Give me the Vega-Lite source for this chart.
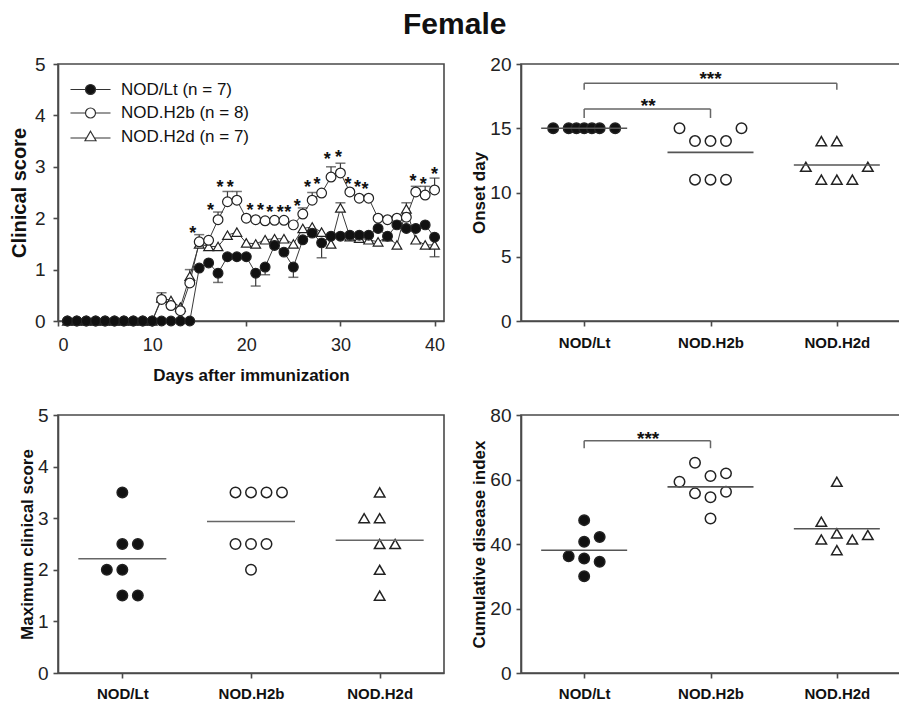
{
  "$schema": "https://vega.github.io/schema/vega-lite/v6.json",
  "padding": {"left": 8, "top": 10, "right": 0, "bottom": 0},
  "background": "white",
  "title": {"text": "Female", "fontSize": 30, "fontWeight": "bold", "font": "Liberation Sans", "color": "#111", "anchor": "middle", "offset": 14},
  "bounds": "flush",
  "columns": 2,
  "spacing": {"row": 94, "column": 77},
  "datasets": {
    "ts": [
      {"g":"NOD.H2d","day":1,"score":0},{"g":"NOD.H2d","day":2,"score":0},{"g":"NOD.H2d","day":3,"score":0},{"g":"NOD.H2d","day":4,"score":0},{"g":"NOD.H2d","day":5,"score":0},{"g":"NOD.H2d","day":6,"score":0},{"g":"NOD.H2d","day":7,"score":0},{"g":"NOD.H2d","day":8,"score":0},{"g":"NOD.H2d","day":9,"score":0},{"g":"NOD.H2d","day":10,"score":0},
      {"g":"NOD.H2d","day":11,"score":0.45},{"g":"NOD.H2d","day":12,"score":0.4},{"g":"NOD.H2d","day":13,"score":0.27},{"g":"NOD.H2d","day":14,"score":0.87},{"g":"NOD.H2d","day":15,"score":1.5},{"g":"NOD.H2d","day":16,"score":1.45},{"g":"NOD.H2d","day":17,"score":1.45},{"g":"NOD.H2d","day":18,"score":1.67},{"g":"NOD.H2d","day":19,"score":1.73},{"g":"NOD.H2d","day":20,"score":1.52},
      {"g":"NOD.H2d","day":21,"score":1.5},{"g":"NOD.H2d","day":22,"score":1.58},{"g":"NOD.H2d","day":23,"score":1.6},{"g":"NOD.H2d","day":24,"score":1.6},{"g":"NOD.H2d","day":25,"score":1.5},{"g":"NOD.H2d","day":26,"score":1.8},{"g":"NOD.H2d","day":27,"score":1.83},{"g":"NOD.H2d","day":28,"score":1.73},{"g":"NOD.H2d","day":29,"score":1.5},{"g":"NOD.H2d","day":30,"score":2.2},
      {"g":"NOD.H2d","day":31,"score":1.64},{"g":"NOD.H2d","day":32,"score":1.61},{"g":"NOD.H2d","day":33,"score":1.58},{"g":"NOD.H2d","day":34,"score":1.54},{"g":"NOD.H2d","day":35,"score":1.64},{"g":"NOD.H2d","day":36,"score":1.48},{"g":"NOD.H2d","day":37,"score":2.18},{"g":"NOD.H2d","day":38,"score":1.58},{"g":"NOD.H2d","day":39,"score":1.48},{"g":"NOD.H2d","day":40,"score":1.48},
      {"g":"NOD.H2b","day":1,"score":0},{"g":"NOD.H2b","day":2,"score":0},{"g":"NOD.H2b","day":3,"score":0},{"g":"NOD.H2b","day":4,"score":0},{"g":"NOD.H2b","day":5,"score":0},{"g":"NOD.H2b","day":6,"score":0},{"g":"NOD.H2b","day":7,"score":0},{"g":"NOD.H2b","day":8,"score":0},{"g":"NOD.H2b","day":9,"score":0},{"g":"NOD.H2b","day":10,"score":0},
      {"g":"NOD.H2b","day":11,"score":0.42},{"g":"NOD.H2b","day":12,"score":0.3},{"g":"NOD.H2b","day":13,"score":0.2},{"g":"NOD.H2b","day":14,"score":0.74},{"g":"NOD.H2b","day":15,"score":1.54},{"g":"NOD.H2b","day":16,"score":1.57},{"g":"NOD.H2b","day":17,"score":1.97},{"g":"NOD.H2b","day":18,"score":2.32},{"g":"NOD.H2b","day":19,"score":2.35},{"g":"NOD.H2b","day":20,"score":2.0},
      {"g":"NOD.H2b","day":21,"score":1.97},{"g":"NOD.H2b","day":22,"score":1.95},{"g":"NOD.H2b","day":23,"score":1.96},{"g":"NOD.H2b","day":24,"score":1.96},{"g":"NOD.H2b","day":25,"score":1.87},{"g":"NOD.H2b","day":26,"score":2.08},{"g":"NOD.H2b","day":27,"score":2.35},{"g":"NOD.H2b","day":28,"score":2.49},{"g":"NOD.H2b","day":29,"score":2.8},{"g":"NOD.H2b","day":30,"score":2.88},
      {"g":"NOD.H2b","day":31,"score":2.51},{"g":"NOD.H2b","day":32,"score":2.39},{"g":"NOD.H2b","day":33,"score":2.39},{"g":"NOD.H2b","day":34,"score":2.0},{"g":"NOD.H2b","day":35,"score":1.97},{"g":"NOD.H2b","day":36,"score":2.0},{"g":"NOD.H2b","day":37,"score":2.02},{"g":"NOD.H2b","day":38,"score":2.51},{"g":"NOD.H2b","day":39,"score":2.45},{"g":"NOD.H2b","day":40,"score":2.55},
      {"g":"NOD/Lt","day":1,"score":0},{"g":"NOD/Lt","day":2,"score":0},{"g":"NOD/Lt","day":3,"score":0},{"g":"NOD/Lt","day":4,"score":0},{"g":"NOD/Lt","day":5,"score":0},{"g":"NOD/Lt","day":6,"score":0},{"g":"NOD/Lt","day":7,"score":0},{"g":"NOD/Lt","day":8,"score":0},{"g":"NOD/Lt","day":9,"score":0},{"g":"NOD/Lt","day":10,"score":0},
      {"g":"NOD/Lt","day":11,"score":0},{"g":"NOD/Lt","day":12,"score":0},{"g":"NOD/Lt","day":13,"score":0},{"g":"NOD/Lt","day":14,"score":0},{"g":"NOD/Lt","day":15,"score":1.03},{"g":"NOD/Lt","day":16,"score":1.13},{"g":"NOD/Lt","day":17,"score":0.93},{"g":"NOD/Lt","day":18,"score":1.25},{"g":"NOD/Lt","day":19,"score":1.25},{"g":"NOD/Lt","day":20,"score":1.25},
      {"g":"NOD/Lt","day":21,"score":0.93},{"g":"NOD/Lt","day":22,"score":1.05},{"g":"NOD/Lt","day":23,"score":1.47},{"g":"NOD/Lt","day":24,"score":1.34},{"g":"NOD/Lt","day":25,"score":1.05},{"g":"NOD/Lt","day":26,"score":1.58},{"g":"NOD/Lt","day":27,"score":1.71},{"g":"NOD/Lt","day":28,"score":1.52},{"g":"NOD/Lt","day":29,"score":1.65},{"g":"NOD/Lt","day":30,"score":1.65},
      {"g":"NOD/Lt","day":31,"score":1.67},{"g":"NOD/Lt","day":32,"score":1.67},{"g":"NOD/Lt","day":33,"score":1.67},{"g":"NOD/Lt","day":34,"score":1.8},{"g":"NOD/Lt","day":35,"score":1.65},{"g":"NOD/Lt","day":36,"score":1.87},{"g":"NOD/Lt","day":37,"score":1.8},{"g":"NOD/Lt","day":38,"score":1.8},{"g":"NOD/Lt","day":39,"score":1.87},{"g":"NOD/Lt","day":40,"score":1.63}
    ],
    "err": [
      {"g":"NOD/Lt","day":17,"from":0.93,"to":0.75},{"g":"NOD/Lt","day":21,"from":0.93,"to":0.68},{"g":"NOD/Lt","day":22,"from":1.05,"to":0.9},{"g":"NOD/Lt","day":25,"from":1.05,"to":0.85},{"g":"NOD/Lt","day":28,"from":1.52,"to":1.23},{"g":"NOD/Lt","day":40,"from":1.63,"to":1.25},
      {"g":"NOD.H2b","day":11,"from":0.42,"to":0.55},{"g":"NOD.H2b","day":15,"from":1.54,"to":1.68},{"g":"NOD.H2b","day":17,"from":1.97,"to":2.12},{"g":"NOD.H2b","day":18,"from":2.32,"to":2.52},{"g":"NOD.H2b","day":19,"from":2.35,"to":2.52},{"g":"NOD.H2b","day":26,"from":2.08,"to":2.2},{"g":"NOD.H2b","day":27,"from":2.35,"to":2.5},{"g":"NOD.H2b","day":29,"from":2.8,"to":3.0},{"g":"NOD.H2b","day":30,"from":2.88,"to":3.07},{"g":"NOD.H2b","day":38,"from":2.51,"to":2.62},{"g":"NOD.H2b","day":39,"from":2.45,"to":2.62},{"g":"NOD.H2b","day":40,"from":2.55,"to":2.78},
      {"g":"NOD.H2d","day":14,"from":0.87,"to":1.0},{"g":"NOD.H2d","day":30,"from":2.2,"to":2.3},{"g":"NOD.H2d","day":37,"from":2.18,"to":2.3}
    ],
    "stars": [
      {"d":14.3,"s":1.79,"t":"*"},{"d":16.2,"s":2.24,"t":"*"},{"d":17.2,"s":2.68,"t":"*"},{"d":18.3,"s":2.68,"t":"*"},
      {"d":20.4,"s":2.24,"t":"*"},{"d":21.5,"s":2.24,"t":"*"},{"d":22.5,"s":2.2,"t":"*"},{"d":23.6,"s":2.2,"t":"*"},{"d":24.4,"s":2.2,"t":"*"},{"d":25.4,"s":2.32,"t":"*"},
      {"d":26.5,"s":2.68,"t":"*"},{"d":27.5,"s":2.74,"t":"*"},{"d":28.6,"s":3.23,"t":"*"},{"d":29.8,"s":3.27,"t":"*"},
      {"d":30.8,"s":2.74,"t":"*"},{"d":31.8,"s":2.68,"t":"*"},{"d":32.6,"s":2.65,"t":"*"},
      {"d":37.7,"s":2.8,"t":"*"},{"d":38.8,"s":2.74,"t":"*"},{"d":40.0,"s":2.94,"t":"*"}
    ],
    "onset": [
      {"g":"NOD/Lt","v":15,"slot":-2},{"g":"NOD/Lt","v":15,"slot":-1},{"g":"NOD/Lt","v":15,"slot":-0.5},{"g":"NOD/Lt","v":15,"slot":0},{"g":"NOD/Lt","v":15,"slot":0.5},{"g":"NOD/Lt","v":15,"slot":1},{"g":"NOD/Lt","v":15,"slot":2},
      {"g":"NOD.H2b","v":15,"slot":-2},{"g":"NOD.H2b","v":15,"slot":2},{"g":"NOD.H2b","v":14,"slot":-1},{"g":"NOD.H2b","v":14,"slot":0},{"g":"NOD.H2b","v":14,"slot":1},{"g":"NOD.H2b","v":11,"slot":-1},{"g":"NOD.H2b","v":11,"slot":0},{"g":"NOD.H2b","v":11,"slot":1},
      {"g":"NOD.H2d","v":14,"slot":-1},{"g":"NOD.H2d","v":14,"slot":0},{"g":"NOD.H2d","v":12,"slot":-2},{"g":"NOD.H2d","v":12,"slot":2},{"g":"NOD.H2d","v":11,"slot":-1},{"g":"NOD.H2d","v":11,"slot":0},{"g":"NOD.H2d","v":11,"slot":1}
    ],
    "maxs": [
      {"g":"NOD/Lt","v":3.5,"slot":0},{"g":"NOD/Lt","v":2.5,"slot":0},{"g":"NOD/Lt","v":2.5,"slot":1},{"g":"NOD/Lt","v":2.0,"slot":-1},{"g":"NOD/Lt","v":2.0,"slot":0},{"g":"NOD/Lt","v":1.5,"slot":0},{"g":"NOD/Lt","v":1.5,"slot":1},
      {"g":"NOD.H2b","v":3.5,"slot":-1},{"g":"NOD.H2b","v":3.5,"slot":0},{"g":"NOD.H2b","v":3.5,"slot":1},{"g":"NOD.H2b","v":3.5,"slot":2},{"g":"NOD.H2b","v":2.5,"slot":-1},{"g":"NOD.H2b","v":2.5,"slot":0},{"g":"NOD.H2b","v":2.5,"slot":1},{"g":"NOD.H2b","v":2.0,"slot":0},
      {"g":"NOD.H2d","v":3.5,"slot":0},{"g":"NOD.H2d","v":3.0,"slot":-1},{"g":"NOD.H2d","v":3.0,"slot":0},{"g":"NOD.H2d","v":2.5,"slot":0},{"g":"NOD.H2d","v":2.5,"slot":1},{"g":"NOD.H2d","v":2.0,"slot":0},{"g":"NOD.H2d","v":1.5,"slot":0}
    ],
    "cum": [
      {"g":"NOD/Lt","v":47.4,"slot":0},{"g":"NOD/Lt","v":40.7,"slot":0},{"g":"NOD/Lt","v":42.2,"slot":1},{"g":"NOD/Lt","v":36.2,"slot":-1},{"g":"NOD/Lt","v":35.5,"slot":0},{"g":"NOD/Lt","v":34.5,"slot":1},{"g":"NOD/Lt","v":30.0,"slot":0},
      {"g":"NOD.H2b","v":65.2,"slot":-1},{"g":"NOD.H2b","v":59.3,"slot":-2},{"g":"NOD.H2b","v":61.1,"slot":0},{"g":"NOD.H2b","v":61.9,"slot":1},{"g":"NOD.H2b","v":55.7,"slot":-1},{"g":"NOD.H2b","v":54.5,"slot":0},{"g":"NOD.H2b","v":56.2,"slot":1},{"g":"NOD.H2b","v":47.9,"slot":0},
      {"g":"NOD.H2d","v":59.3,"slot":0},{"g":"NOD.H2d","v":46.9,"slot":-1},{"g":"NOD.H2d","v":43.3,"slot":0},{"g":"NOD.H2d","v":42.8,"slot":2},{"g":"NOD.H2d","v":41.4,"slot":-1},{"g":"NOD.H2d","v":41.4,"slot":1},{"g":"NOD.H2d","v":38.1,"slot":0}
    ],
    "brkOnset": [
      {"from":"NOD/Lt","to":"NOD.H2b","y":16.5,"leg":15.8,"label":"**","ly":17.1},
      {"from":"NOD/Lt","to":"NOD.H2d","mid":"NOD.H2b","y":18.5,"leg":18.0,"label":"***","ly":19.2}
    ],
    "brkCum": [
      {"from":"NOD/Lt","to":"NOD.H2b","y":72,"leg":69.7,"label":"***","ly":74.1}
    ]
  },
  "concat": [
    {
      "width": 386, "height": 257,
      "resolve": {"scale": {"shape": "independent", "fill": "independent", "stroke": "independent"}},
      "encoding": {
        "x": {"field": "day", "type": "quantitative", "scale": {"domain": [0, 41], "nice": false, "zero": false},
              "axis": {"values": [0, 10, 20, 30, 40], "title": "Days after immunization", "titleFontSize": 17, "titlePadding": 13, "labelFontSize": 18, "labelPadding": 10}},
        "y": {"field": "score", "type": "quantitative", "scale": {"domain": [0, 5]},
              "axis": {"values": [0, 1, 2, 3, 4, 5], "title": "Clinical score", "titleFontSize": 20, "titlePadding": 5, "labelPadding": 8}}
      },
      "layer": [
        {"data": {"name": "ts"}, "mark": {"type": "line", "color": "#3a3a3a", "strokeWidth": 1},
         "encoding": {"detail": {"field": "g", "type": "nominal"}}},
        {"data": {"name": "err"}, "mark": {"type": "rule", "color": "#3a3a3a", "strokeWidth": 1.2},
         "encoding": {"y": {"field": "from", "type": "quantitative"}, "y2": {"field": "to"}}},
        {"data": {"name": "err"}, "mark": {"type": "tick", "orient": "horizontal", "size": 10, "thickness": 1.5, "color": "#3a3a3a"},
         "encoding": {"y": {"field": "to", "type": "quantitative"}}},
        {"data": {"name": "ts"}, "mark": {"type": "point", "filled": true, "stroke": "#222", "strokeWidth": 1.2, "size": 95, "opacity": 1},
         "encoding": {
           "shape": {"field": "g", "type": "nominal", "scale": {"domain": ["NOD/Lt", "NOD.H2b", "NOD.H2d"], "range": ["circle", "circle", "triangle-up"]}, "legend": null},
           "fill": {"field": "g", "type": "nominal", "scale": {"domain": ["NOD/Lt", "NOD.H2b", "NOD.H2d"], "range": ["#111111", "#ffffff", "#ffffff"]}, "legend": null}
         }},
        {"data": {"name": "stars"}, "mark": {"type": "text", "fontSize": 18, "fontWeight": "bold", "baseline": "middle", "dy": 5, "color": "#111"},
         "encoding": {"x": {"field": "d", "type": "quantitative"}, "y": {"field": "s", "type": "quantitative"}, "text": {"field": "t"}}},
        {"data": {"name": "ts"}, "transform": [{"filter": "false"}],
         "mark": {"type": "point", "filled": false, "strokeWidth": 1.2, "opacity": 1},
         "encoding": {
           "shape": {"field": "g", "type": "nominal", "scale": {"domain": ["NOD/Lt", "NOD.H2b", "NOD.H2d"],
              "range": ["M-4,0H-1M1,0H4M1,0A1,1,0,1,1,-1,0A1,1,0,1,1,1,0Z", "M-4,0H-1M1,0H4M1,0A1,1,0,1,1,-1,0A1,1,0,1,1,1,0Z", "M-4,0.3H-0.78M0.78,0.3H4M0,-1.05L1.1,0.85L-1.1,0.85Z"]},
              "legend": {"title": null, "orient": "none", "legendX": 24, "legendY": 17, "labelFontSize": 17, "labelColor": "#111", "symbolSize": 100, "symbolStrokeWidth": 1.2, "labelOffset": 22, "rowPadding": 5.5,
                "labelExpr": "datum.label == 'NOD/Lt' ? 'NOD/Lt (n = 7)' : datum.label == 'NOD.H2b' ? 'NOD.H2b (n = 8)' : 'NOD.H2d (n = 7)'"}},
           "fill": {"field": "g", "type": "nominal", "scale": {"domain": ["NOD/Lt", "NOD.H2b", "NOD.H2d"], "range": ["#111111", "#ffffff", "#ffffff"]},
              "legend": {"title": null, "orient": "none", "legendX": 24, "legendY": 17, "labelFontSize": 17, "labelColor": "#111", "symbolSize": 100, "symbolStrokeWidth": 1.2, "labelOffset": 22, "rowPadding": 5.5,
                "labelExpr": "datum.label == 'NOD/Lt' ? 'NOD/Lt (n = 7)' : datum.label == 'NOD.H2b' ? 'NOD.H2b (n = 8)' : 'NOD.H2d (n = 7)'"}},
           "stroke": {"field": "g", "type": "nominal", "scale": {"domain": ["NOD/Lt", "NOD.H2b", "NOD.H2d"], "range": ["#333333", "#333333", "#333333"]},
              "legend": {"title": null, "orient": "none", "legendX": 24, "legendY": 17, "labelFontSize": 17, "labelColor": "#111", "symbolSize": 100, "symbolStrokeWidth": 1.2, "labelOffset": 22, "rowPadding": 5.5,
                "labelExpr": "datum.label == 'NOD/Lt' ? 'NOD/Lt (n = 7)' : datum.label == 'NOD.H2b' ? 'NOD.H2b (n = 8)' : 'NOD.H2d (n = 7)'"}}
         }}
      ]
    },
    {
      "width": 379, "height": 257,
      "layer": [
        {"data": {"name": "onset"}, "mark": {"type": "point", "filled": true, "stroke": "#222", "strokeWidth": 1.5, "size": 110, "opacity": 1},
         "encoding": {
           "x": {"field": "g", "type": "nominal", "scale": {"type": "point", "padding": 0.5, "domain": ["NOD/Lt", "NOD.H2b", "NOD.H2d"]},
                 "axis": {"title": null, "labelAngle": 0, "labelFontWeight": "bold", "labelFontSize": 15, "labelColor": "#111", "labelPadding": 9}},
           "xOffset": {"field": "slot", "type": "quantitative", "scale": {"domain": [-2, 2], "range": [-31, 31], "zero": false, "nice": false}},
           "y": {"field": "v", "type": "quantitative", "scale": {"domain": [0, 20]}, "axis": {"values": [0, 5, 10, 15, 20], "title": "Onset day", "titlePadding": 1}},
           "shape": {"field": "g", "type": "nominal", "scale": {"domain": ["NOD/Lt", "NOD.H2b", "NOD.H2d"], "range": ["circle", "circle", "triangle-up"]}, "legend": null},
           "fill": {"field": "g", "type": "nominal", "scale": {"domain": ["NOD/Lt", "NOD.H2b", "NOD.H2d"], "range": ["#111111", "#ffffff", "#ffffff"]}, "legend": null}
         }},
        {"data": {"name": "onset"}, "mark": {"type": "tick", "size": 86, "thickness": 1.6, "color": "#555"},
         "encoding": {"x": {"field": "g", "type": "nominal"}, "y": {"aggregate": "mean", "field": "v", "type": "quantitative"}}},
        {"data": {"name": "brkOnset"}, "mark": {"type": "rule", "color": "#666", "strokeWidth": 1.5},
         "encoding": {"x": {"field": "from", "type": "nominal"}, "x2": {"field": "to"}, "y": {"field": "y", "type": "quantitative"}}},
        {"data": {"name": "brkOnset"}, "mark": {"type": "rule", "color": "#666", "strokeWidth": 1.5},
         "encoding": {"x": {"field": "from", "type": "nominal"}, "y": {"field": "y", "type": "quantitative"}, "y2": {"field": "leg"}}},
        {"data": {"name": "brkOnset"}, "mark": {"type": "rule", "color": "#666", "strokeWidth": 1.5},
         "encoding": {"x": {"field": "to", "type": "nominal"}, "y": {"field": "y", "type": "quantitative"}, "y2": {"field": "leg"}}},
        {"data": {"name": "brkOnset"}, "transform": [{"filter": "!datum.mid"}], "mark": {"type": "text", "fontSize": 19, "fontWeight": "bold", "baseline": "middle", "dy": 5, "dx": 64, "color": "#111"},
         "encoding": {"x": {"field": "from", "type": "nominal"}, "y": {"field": "ly", "type": "quantitative"}, "text": {"field": "label"}}},
        {"data": {"name": "brkOnset"}, "transform": [{"filter": "datum.mid"}], "mark": {"type": "text", "fontSize": 19, "fontWeight": "bold", "baseline": "middle", "dy": 5, "color": "#111"},
         "encoding": {"x": {"field": "mid", "type": "nominal"}, "y": {"field": "ly", "type": "quantitative"}, "text": {"field": "label"}}}
      ]
    },
    {
      "width": 386, "height": 258,
      "layer": [
        {"data": {"name": "maxs"}, "mark": {"type": "point", "filled": true, "stroke": "#222", "strokeWidth": 1.5, "size": 110, "opacity": 1},
         "encoding": {
           "x": {"field": "g", "type": "nominal", "scale": {"type": "point", "padding": 0.5, "domain": ["NOD/Lt", "NOD.H2b", "NOD.H2d"]},
                 "axis": {"title": null, "labelAngle": 0, "labelFontWeight": "bold", "labelFontSize": 15, "labelColor": "#111", "labelPadding": 8}},
           "xOffset": {"field": "slot", "type": "quantitative", "scale": {"domain": [-2, 2], "range": [-31, 31], "zero": false, "nice": false}},
           "y": {"field": "v", "type": "quantitative", "scale": {"domain": [0, 5]}, "axis": {"values": [0, 1, 2, 3, 4, 5], "title": "Maximum clinical score", "titlePadding": 1}},
           "shape": {"field": "g", "type": "nominal", "scale": {"domain": ["NOD/Lt", "NOD.H2b", "NOD.H2d"], "range": ["circle", "circle", "triangle-up"]}, "legend": null},
           "fill": {"field": "g", "type": "nominal", "scale": {"domain": ["NOD/Lt", "NOD.H2b", "NOD.H2d"], "range": ["#111111", "#ffffff", "#ffffff"]}, "legend": null}
         }},
        {"data": {"name": "maxs"}, "mark": {"type": "tick", "size": 88, "thickness": 1.6, "color": "#666"},
         "encoding": {"x": {"field": "g", "type": "nominal"}, "y": {"aggregate": "mean", "field": "v", "type": "quantitative"}}}
      ]
    },
    {
      "width": 379, "height": 258,
      "layer": [
        {"data": {"name": "cum"}, "mark": {"type": "point", "filled": true, "stroke": "#222", "strokeWidth": 1.5, "size": 110, "opacity": 1},
         "encoding": {
           "x": {"field": "g", "type": "nominal", "scale": {"type": "point", "padding": 0.5, "domain": ["NOD/Lt", "NOD.H2b", "NOD.H2d"]},
                 "axis": {"title": null, "labelAngle": 0, "labelFontWeight": "bold", "labelFontSize": 15, "labelColor": "#111", "labelPadding": 8}},
           "xOffset": {"field": "slot", "type": "quantitative", "scale": {"domain": [-2, 2], "range": [-31, 31], "zero": false, "nice": false}},
           "y": {"field": "v", "type": "quantitative", "scale": {"domain": [0, 80]}, "axis": {"values": [0, 20, 40, 60, 80], "title": "Cumulative disease index", "titlePadding": 1}},
           "shape": {"field": "g", "type": "nominal", "scale": {"domain": ["NOD/Lt", "NOD.H2b", "NOD.H2d"], "range": ["circle", "circle", "triangle-up"]}, "legend": null},
           "fill": {"field": "g", "type": "nominal", "scale": {"domain": ["NOD/Lt", "NOD.H2b", "NOD.H2d"], "range": ["#111111", "#ffffff", "#ffffff"]}, "legend": null}
         }},
        {"data": {"name": "cum"}, "mark": {"type": "tick", "size": 86, "thickness": 1.6, "color": "#555"},
         "encoding": {"x": {"field": "g", "type": "nominal"}, "y": {"aggregate": "mean", "field": "v", "type": "quantitative"}}},
        {"data": {"name": "brkCum"}, "mark": {"type": "rule", "color": "#666", "strokeWidth": 1.5},
         "encoding": {"x": {"field": "from", "type": "nominal"}, "x2": {"field": "to"}, "y": {"field": "y", "type": "quantitative"}}},
        {"data": {"name": "brkCum"}, "mark": {"type": "rule", "color": "#666", "strokeWidth": 1.5},
         "encoding": {"x": {"field": "from", "type": "nominal"}, "y": {"field": "y", "type": "quantitative"}, "y2": {"field": "leg"}}},
        {"data": {"name": "brkCum"}, "mark": {"type": "rule", "color": "#666", "strokeWidth": 1.5},
         "encoding": {"x": {"field": "to", "type": "nominal"}, "y": {"field": "y", "type": "quantitative"}, "y2": {"field": "leg"}}},
        {"data": {"name": "brkCum"}, "mark": {"type": "text", "fontSize": 19, "fontWeight": "bold", "baseline": "middle", "dy": 5, "dx": 64, "color": "#111"},
         "encoding": {"x": {"field": "from", "type": "nominal"}, "y": {"field": "ly", "type": "quantitative"}, "text": {"field": "label"}}}
      ]
    }
  ],
  "config": {
    "font": "Liberation Sans",
    "view": {"stroke": "#4a4a4a", "strokeWidth": 1.6},
    "axis": {"domainColor": "#4a4a4a", "domainWidth": 1.6, "tickColor": "#4a4a4a", "tickWidth": 1.6, "tickSize": 5, "labelColor": "#222", "labelFont": "Liberation Sans", "labelFontSize": 19, "titleFont": "Liberation Sans", "titleFontSize": 17, "titleFontWeight": "bold", "titleColor": "#111", "grid": false, "labelPadding": 5},
    "axisX": {"labelPadding": 9},
    "legend": {"labelFont": "Liberation Sans"}
  }
}
